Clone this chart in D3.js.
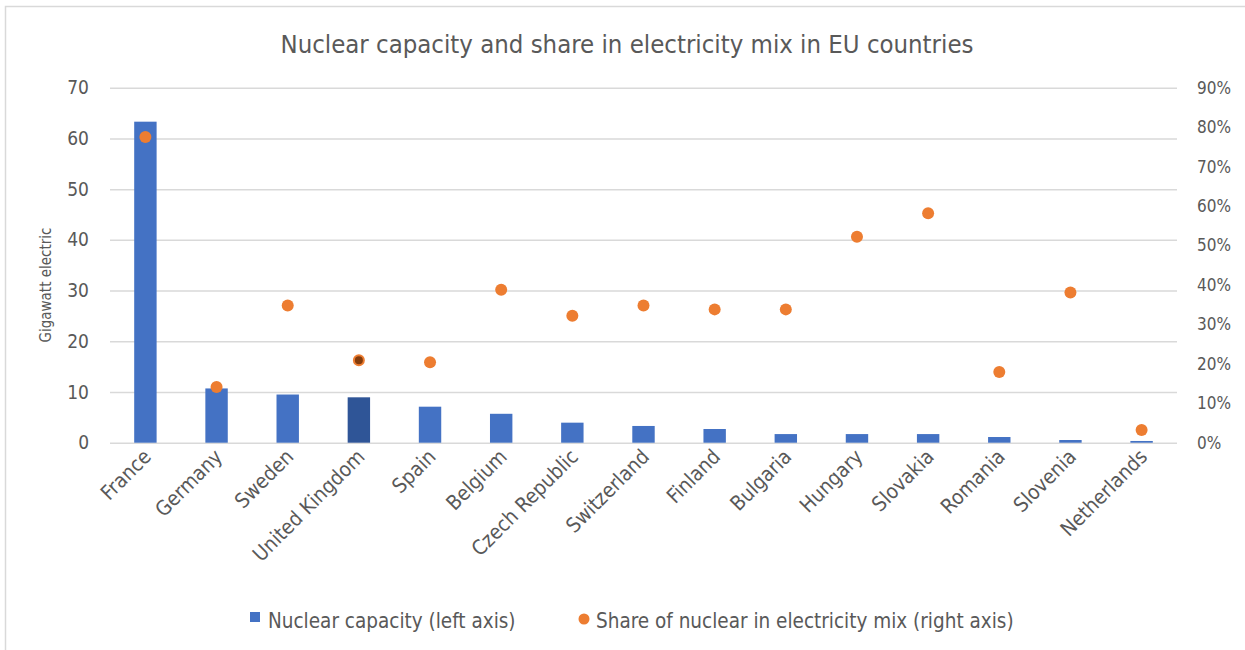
<!DOCTYPE html>
<html>
<head>
<meta charset="utf-8">
<script src="https://d3js.org/d3.v7.min.js"></script>
<title>Nuclear capacity</title>
<style>
  body { margin: 0; background: #fff; }
  text { font-family: 'DejaVu Sans Condensed', 'Liberation Sans Narrow', sans-serif; fill: #595959; }
</style>
</head>
<body>
<script>
var countries = ["France","Germany","Sweden","United Kingdom","Spain","Belgium","Czech Republic",
                 "Switzerland","Finland","Bulgaria","Hungary","Slovakia","Romania","Slovenia","Netherlands"];
var capacity = [63.3, 10.7, 9.5, 8.95, 7.1, 5.7, 3.95, 3.3, 2.7, 1.7, 1.7, 1.7, 1.12, 0.53, 0.34];
var share = [0.775, 0.141, 0.348, 0.209, 0.204, 0.388, 0.322, 0.348, 0.338, 0.338, 0.522, 0.582, 0.179, 0.381, 0.032];
var leftTicks = [0, 10, 20, 30, 40, 50, 60, 70];
var rightTicks = [0, 0.1, 0.2, 0.3, 0.4, 0.5, 0.6, 0.7, 0.8, 0.9];
var highlight = "United Kingdom";

var W = 1245, H = 650,
    m = {l: 110, r: 68, t: 87.7, b: 207.3};

var svg = d3.select("body").append("svg")
  .attr("width", W)
  .attr("height", H);

// chart frame
svg.append("rect")
  .attr("x", 5.5).attr("y", 6.5)
  .attr("width", W + 10).attr("height", H + 10)
  .attr("fill", "none").attr("stroke", "#d9d9d9").attr("stroke-width", 1.5);

var x = d3.scaleBand().domain(countries).range([m.l, W - m.r]).paddingInner(0.685).paddingOuter(0.34);
var y = d3.scaleLinear().domain([0, 70]).range([H - m.b, m.t]);
var y2 = d3.scaleLinear().domain([0, 0.9]).range([H - m.b, m.t]);

// gridlines
svg.append("g")
  .attr("transform", "translate(" + m.l + ",0)")
  .call(d3.axisLeft(y).tickValues(leftTicks).tickSize(-(W - m.r - m.l)).tickFormat(""))
  .call(function(g){ g.select(".domain").remove(); })
  .selectAll("line").attr("stroke", "#d9d9d9").attr("stroke-width", 1.5);

// left labels
svg.append("g").selectAll("text")
  .data(leftTicks).enter().append("text")
  .attr("x", 89).attr("y", function(d){ return y(d); })
  .attr("dy", "0.35em").attr("text-anchor", "end")
  .style("font-size", "19px")
  .text(function(d){ return d; });

// right labels
svg.append("g").selectAll("text")
  .data(rightTicks).enter().append("text")
  .attr("x", 1197).attr("y", function(d){ return y2(d); })
  .attr("dy", "0.35em").attr("text-anchor", "start")
  .style("font-size", "17px")
  .text(d3.format(".0%"));

// bars
svg.append("g").selectAll("rect")
  .data(countries).enter().append("rect")
  .attr("x", function(d){ return x(d); })
  .attr("width", x.bandwidth())
  .attr("y", function(d,i){ return y(capacity[i]); })
  .attr("height", function(d,i){ return y(0) - y(capacity[i]); })
  .attr("fill", function(d){ return d == highlight ? "#2f5597" : "#4472c4"; });

// dots
svg.append("g").selectAll("circle")
  .data(countries).enter().append("circle")
  .attr("cx", function(d){ return x(d) + x.bandwidth()/2; })
  .attr("cy", function(d,i){ return y2(share[i]); })
  .attr("r", function(d){ return d == highlight ? 5 : 6; })
  .attr("fill", function(d){ return d == highlight ? "#843c0c" : "#ed7d31"; })
  .attr("stroke", function(d){ return d == highlight ? "#ed7d31" : "none"; })
  .attr("stroke-width", 2);

// x labels
svg.append("g").selectAll("text")
  .data(countries).enter().append("text")
  .attr("transform", function(d){ return "translate(" + (x(d) + x.bandwidth()/2 + 7) + ",458) rotate(-45)"; })
  .attr("text-anchor", "end")
  .style("font-size", "20.5px")
  .text(function(d){ return d; });

// title
svg.append("text")
  .attr("x", 627).attr("y", 53)
  .attr("text-anchor", "middle")
  .style("font-size", "25.5px")
  .text("Nuclear capacity and share in electricity mix in EU countries");

// y axis title
svg.append("text")
  .attr("transform", "translate(51,285) rotate(-90)")
  .attr("text-anchor", "middle")
  .style("font-size", "15px")
  .text("Gigawatt electric");

// legend
var lg = svg.append("g");
lg.append("rect").attr("x", 250).attr("y", 612).attr("width", 10).attr("height", 10).attr("fill", "#4472c4");
lg.append("text").attr("x", 268).attr("y", 628).style("font-size", "20.5px").text("Nuclear capacity (left axis)");
lg.append("circle").attr("cx", 584).attr("cy", 619).attr("r", 5.5).attr("fill", "#ed7d31");
lg.append("text").attr("x", 596).attr("y", 628).style("font-size", "20.5px").text("Share of nuclear in electricity mix (right axis)");
</script>
</body>
</html>
